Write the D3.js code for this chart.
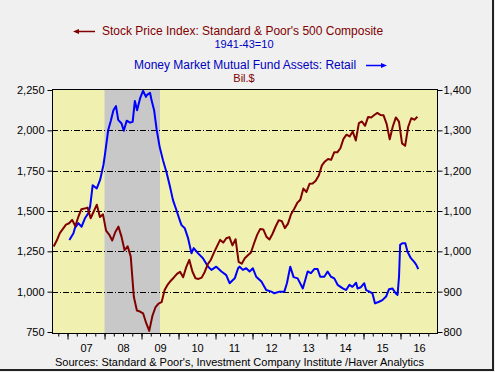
<!DOCTYPE html>
<html>
<head>
<meta charset="utf-8">
<script src="https://cdn.jsdelivr.net/npm/d3@7"></script>
<style>
  body { margin: 0; background: #f0f0f0; }
  svg { display: block; font-family: "Liberation Sans", Arial, sans-serif; }
</style>
</head>
<body>
<div id="chart"></div>
<script>
const WIDTH = 495;
const HEIGHT = 372;

// S&P 500 monthly averages, starting Aug 2006
const spStart = [2006, 8];
const spValues = [
  1280, 1317, 1363, 1389, 1416,
  1424, 1445, 1407, 1463, 1511, 1515, 1521, 1455, 1497, 1539, 1463, 1479,
  1378, 1354, 1317, 1370, 1403, 1341, 1257, 1281, 1217, 968, 883, 877,
  866, 806, 757, 848, 902, 926, 935, 1010, 1044, 1068, 1088, 1110,
  1123, 1089, 1152, 1197, 1125, 1083, 1079, 1087, 1122, 1171, 1198, 1242,
  1282, 1321, 1304, 1331, 1338, 1287, 1325, 1185, 1173, 1207, 1226, 1243,
  1300, 1352, 1389, 1386, 1341, 1323, 1359, 1404, 1443, 1437, 1394, 1422,
  1480, 1512, 1550, 1570, 1639, 1618, 1669, 1671, 1688, 1720, 1783, 1807,
  1822, 1817, 1864, 1864, 1889, 1947, 1973, 1962, 1993, 1937, 2045, 2055,
  2028, 2083, 2080, 2095, 2108, 2095, 2093, 2040, 1944, 2024, 2080, 2054,
  1919, 1904, 2022, 2075, 2066, 2084
];

// money market retail assets (bil. $)
const mmTimes = [
  2007.05, 2007.16, 2007.20, 2007.29, 2007.38, 2007.47, 2007.56, 2007.61, 2007.68, 2007.79,
  2007.88, 2007.97, 2008.01, 2008.10, 2008.17, 2008.24, 2008.31, 2008.37, 2008.46, 2008.52,
  2008.60, 2008.69, 2008.76, 2008.82, 2008.88, 2008.96, 2009.04, 2009.12, 2009.15, 2009.23,
  2009.27, 2009.34, 2009.41, 2009.49, 2009.58, 2009.68, 2009.77, 2009.85, 2009.94, 2010.03,
  2010.08, 2010.17, 2010.26, 2010.35, 2010.41, 2010.53, 2010.66, 2010.80, 2010.89, 2011.02,
  2011.16, 2011.29, 2011.38, 2011.47, 2011.52, 2011.61, 2011.65, 2011.74, 2011.83, 2011.92,
  2012.01, 2012.10, 2012.24, 2012.37, 2012.51, 2012.59, 2012.73, 2012.86, 2012.93, 2013.02,
  2013.11, 2013.22, 2013.36, 2013.49, 2013.58, 2013.67, 2013.76, 2013.83, 2013.94, 2014.03,
  2014.12, 2014.21, 2014.30, 2014.44, 2014.53, 2014.62, 2014.70, 2014.80, 2014.84, 2014.93,
  2015.02, 2015.07, 2015.16, 2015.24, 2015.31, 2015.42, 2015.51, 2015.61, 2015.69, 2015.78,
  2015.87, 2015.92, 2015.96, 2015.99, 2016.05, 2016.13, 2016.19, 2016.28, 2016.37, 2016.43,
  2016.48
];
const mmValues = [
  1028, 1045, 1058, 1070, 1061, 1082, 1094, 1111, 1164, 1156,
  1177, 1214, 1239, 1301, 1324, 1350, 1360, 1326, 1317, 1299,
  1324, 1319, 1321, 1373, 1350, 1379, 1398, 1383, 1388, 1393,
  1375, 1350, 1301, 1259, 1226, 1194, 1160, 1127, 1103, 1078,
  1065, 1057, 1032, 995, 1008, 995, 983, 962, 954, 962,
  950, 941, 921, 929, 933, 958, 962, 954, 958, 950,
  958, 937, 925, 904, 900, 896, 900, 900, 921, 962,
  936, 933, 908, 950, 946, 956, 956, 937, 937, 950,
  937, 933, 917, 908, 904, 917, 912, 922, 908, 911,
  921, 904, 900, 896, 871, 875, 879, 888, 906, 908,
  896, 892, 937, 1016, 1020, 1020, 999, 983, 974, 966,
  956
];

const recession = [2008.0, 2009.5];
const yearLabels = ['07', '08', '09', '10', '11', '12', '13', '14', '15', '16'];
const leftTicks = [750, 1000, 1250, 1500, 1750, 2000, 2250];
const rightTicks = [800, 900, 1000, 1100, 1200, 1300, 1400];

const PLOT = { left: 52, right: 437.5, top: 89.5, bottom: 333.5 };

const svg = d3.select('#chart')
    .append('svg')
    .attr('width', WIDTH)
    .attr('height', HEIGHT)

svg.append('rect')
    .attr('width', WIDTH)
    .attr('height', HEIGHT)
    .attr('fill', '#f0f0f0')

// dark frame at right and bottom
svg.append('path')
    .attr('d', `M0,370 H493 V0`)
    .attr('fill', 'none')
    .attr('stroke', '#222')
    .attr('stroke-width', 2)

const x = d3.scaleLinear().domain([2006.58, 2017.0]).range([PLOT.left, PLOT.right]);
const yL = d3.scaleLinear().domain([750, 2250]).range([332, 90]);
const yR = d3.scaleLinear().domain([800, 1400]).range([332, 90]);

svg.append('rect')
    .attr('x', PLOT.left)
    .attr('y', PLOT.top)
    .attr('width', PLOT.right - PLOT.left)
    .attr('height', PLOT.bottom - PLOT.top)
    .attr('fill', '#f0f0b0')

svg.append('rect')
    .attr('x', x(recession[0]))
    .attr('y', PLOT.top)
    .attr('width', x(recession[1]) - x(recession[0]))
    .attr('height', PLOT.bottom - PLOT.top)
    .attr('fill', '#c8c8c8')

// grid lines
svg.selectAll('line.grid')
    .data(leftTicks.filter(d => d > 750 && d < 2250))
    .enter()
    .append('line')
    .attr('class', 'grid')
    .attr('x1', PLOT.left)
    .attr('x2', PLOT.right)
    .attr('y1', d => Math.round(yL(d)) + 0.5)
    .attr('y2', d => Math.round(yL(d)) + 0.5)
    .attr('stroke', '#000')
    .attr('stroke-dasharray', '6,2,1,2')

svg.append('defs').append('clipPath').attr('id', 'clip')
    .append('rect')
    .attr('x', PLOT.left)
    .attr('y', PLOT.top)
    .attr('width', PLOT.right - PLOT.left)
    .attr('height', PLOT.bottom - PLOT.top)

const spData = spValues.map((v, i) => [spStart[0] + (spStart[1] - 1 + i + 0.5) / 12, v]);
const mmData = mmTimes.map((t, i) => [t, mmValues[i]]);

svg.append('path')
    .datum(mmData)
    .attr('clip-path', 'url(#clip)')
    .attr('d', d3.line().x(d => x(d[0])).y(d => yR(d[1])))
    .attr('fill', 'none')
    .attr('stroke', '#0000ff')
    .attr('stroke-width', 2)
    .attr('stroke-linejoin', 'round')

svg.append('path')
    .datum(spData)
    .attr('clip-path', 'url(#clip)')
    .attr('d', d3.line().x(d => x(d[0])).y(d => yL(d[1])))
    .attr('fill', 'none')
    .attr('stroke', '#800000')
    .attr('stroke-width', 2)
    .attr('stroke-linejoin', 'round')

// plot frame
svg.append('rect')
    .attr('x', PLOT.left + 0.5)
    .attr('y', PLOT.top)
    .attr('width', PLOT.right - PLOT.left - 0.5)
    .attr('height', PLOT.bottom - PLOT.top)
    .attr('fill', 'none')
    .attr('stroke', '#000')

// left axis
const leftAxis = svg.append('g')
    .attr('transform', `translate(${PLOT.left + 0.5},0)`)
    .call(d3.axisLeft(yL).tickValues(leftTicks).tickSize(5).tickPadding(3).tickFormat(d3.format(',')))
leftAxis.select('.domain').remove()

const rightAxis = svg.append('g')
    .attr('transform', `translate(${PLOT.right},0)`)
    .call(d3.axisRight(yR).tickValues(rightTicks).tickSize(5).tickPadding(1).tickFormat(d3.format(',')))
rightAxis.select('.domain').remove()

// bottom axis: quarter ticks, year ticks, year labels
const quarters = d3.range(2006.75, 2017.0, 0.25);
const years = d3.range(2007, 2017);

svg.append('g')
    .attr('transform', `translate(0,${PLOT.bottom})`)
    .call(d3.axisBottom(x).tickValues(quarters).tickSize(3).tickFormat(''))
    .select('.domain').remove()

svg.append('g')
    .attr('transform', `translate(0,${PLOT.bottom})`)
    .call(d3.axisBottom(x).tickValues(years).tickSize(6).tickFormat(''))
    .select('.domain').remove()

const yearAxis = svg.append('g')
    .attr('transform', `translate(0,${PLOT.bottom})`)
    .call(d3.axisBottom(x).tickValues(years.map(d => d + 0.5)).tickSize(0).tickPadding(11)
        .tickFormat((d, i) => yearLabels[i]))
yearAxis.select('.domain').remove()

svg.selectAll('.tick text')
    .attr('font-family', '"Liberation Sans", Arial, sans-serif')
    .attr('font-size', 11)
    .attr('fill', '#000')
svg.selectAll('.tick line').attr('stroke', '#000')

// titles
svg.append('text')
    .text("Stock Price Index: Standard & Poor's 500 Composite")
    .attr('x', 102)
    .attr('y', 35)
    .attr('font-size', 12)
    .attr('fill', '#800000')

svg.append('line')
    .attr('x1', 76).attr('x2', 95).attr('y1', 31.5).attr('y2', 31.5)
    .attr('stroke', '#800000').attr('stroke-width', 1.5)
svg.append('path')
    .attr('d', 'M73,31.5 L79,29 L79,34 Z')
    .attr('fill', '#800000')

svg.append('text')
    .text('1941-43=10')
    .attr('x', 244)
    .attr('y', 48)
    .attr('font-size', 11)
    .attr('text-anchor', 'middle')
    .attr('fill', '#0000c0')

svg.append('text')
    .text('Money Market Mutual Fund Assets: Retail')
    .attr('x', 134)
    .attr('y', 69)
    .attr('font-size', 12)
    .attr('fill', '#0000c0')

svg.append('line')
    .attr('x1', 366).attr('x2', 384).attr('y1', 65.5).attr('y2', 65.5)
    .attr('stroke', '#0000ff').attr('stroke-width', 1.5)
svg.append('path')
    .attr('d', 'M387,65.5 L381,63 L381,68 Z')
    .attr('fill', '#0000ff')

svg.append('text')
    .text('Bil.$')
    .attr('x', 244)
    .attr('y', 82)
    .attr('font-size', 11)
    .attr('text-anchor', 'middle')
    .attr('fill', '#800000')

svg.append('text')
    .text("Sources:  Standard & Poor's, Investment Company Institute /Haver Analytics")
    .attr('x', 55)
    .attr('y', 366)
    .attr('font-size', 11)
    .attr('fill', '#000')
</script>
</body>
</html>
